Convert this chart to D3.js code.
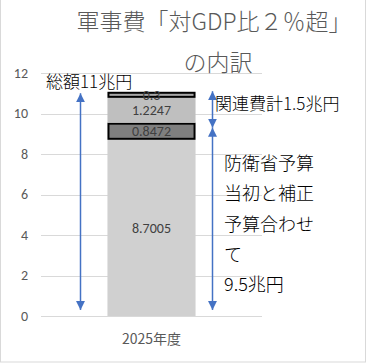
<!DOCTYPE html>
<html>
<head>
<meta charset="utf-8">
<script src="https://cdn.jsdelivr.net/npm/d3@7"></script>
<style>
body { margin: 0; background: #fff; }
svg { font-family: "Noto Sans CJK JP", "Noto Sans", sans-serif; }
</style>
</head>
<body>
<svg id="chart" width="366" height="363"></svg>
<script>
var categories = ["2025年度"];
var seriesNames = ["防衛省予算", "補正", "関連費", "その他"];
var seriesValues = [8.7005, 0.8472, 1.2247, 0.3];
var seriesColors = ["#d0d0d0", "#7f7f7f", "#bfbfbf", "#a6a6a6"];
var seriesBorder = [false, true, false, true];
var yTicks = [0, 2, 4, 6, 8, 10, 12];

var svg = d3.select("#chart");

// chart border
svg.append("rect")
  .attr("x", 0.5).attr("y", -1)
  .attr("width", 365).attr("height", 363)
  .style("fill", "none").style("stroke", "#d9d9d9");

var y = d3.scaleLinear().domain([0, 12]).range([316, 73]);
var x = d3.scaleBand().domain(categories).range([41, 262]).padding(0.43);

// gridlines
svg.append("g").selectAll("line")
  .data(yTicks).enter().append("line")
  .attr("x1", 41).attr("x2", 262)
  .attr("y1", function(d) { return Math.round(y(d)) + 0.5; })
  .attr("y2", function(d) { return Math.round(y(d)) + 0.5; })
  .style("stroke", "#d9d9d9");

var yAxis = d3.axisLeft(y).tickValues(yTicks).tickSize(0).tickPadding(0);
var gy = svg.append("g").attr("transform", "translate(28,0)").call(yAxis);
gy.select(".domain").remove();
gy.selectAll("text").style("fill", "#595959").style("font-size", "14px")
  .style("font-family", "Calibri, 'Liberation Sans', sans-serif");

// stacked bar
var stack = [];
var acc = 0;
seriesValues.forEach(function(v, i) {
  stack.push({ name: seriesNames[i], v0: acc, v1: acc + v, value: v, color: seriesColors[i], border: seriesBorder[i] });
  acc += v;
});

var bars = svg.append("g");
bars.selectAll("rect")
  .data(stack).enter().append("rect")
  .attr("x", function(d) { return x(categories[0]) + (d.border ? 1 : 0); })
  .attr("width", function(d) { return x.bandwidth() - (d.border ? 2 : 0); })
  .attr("y", function(d) { return y(d.v1) + (d.border ? 1 : 0); })
  .attr("height", function(d) { return y(d.v0) - y(d.v1) - (d.border ? 2 : 0); })
  .style("fill", function(d) { return d.color; })
  .style("stroke", function(d) { return d.border ? "#000" : "none"; })
  .style("stroke-width", 2);

bars.selectAll("text")
  .data(stack).enter().append("text")
  .attr("x", x(categories[0]) + x.bandwidth() / 2)
  .attr("y", function(d) { return (y(d.v0) + y(d.v1)) / 2 + 5; })
  .attr("text-anchor", "middle")
  .style("font-size", "14px")
  .style("font-family", "Calibri, 'Liberation Sans', sans-serif")
  .style("fill", "#404040")
  .text(function(d) { return d.value; });

// x axis label
svg.append("text")
  .attr("x", x(categories[0]) + x.bandwidth() / 2)
  .attr("y", 344)
  .attr("text-anchor", "middle")
  .style("font-size", "14px").style("fill", "#595959")
  .text(categories[0]);

// title
svg.append("text").attr("x", 214).attr("y", 30)
  .attr("text-anchor", "middle")
  .style("font-size", "23px").style("fill", "#595959").style("font-weight", 300)
  .text("軍事費「対GDP比２％超」");
svg.append("text").attr("x", 218).attr("y", 71)
  .attr("text-anchor", "middle")
  .style("font-size", "23px").style("fill", "#595959").style("font-weight", 300)
  .text("の内訳");

// arrows
var defs = svg.append("defs");
defs.append("marker").attr("id", "tri")
  .attr("viewBox", "0 0 10 10").attr("refX", 10).attr("refY", 5)
  .attr("markerWidth", 9).attr("markerHeight", 9)
  .attr("markerUnits", "userSpaceOnUse")
  .attr("orient", "auto-start-reverse")
  .append("path").attr("d", "M0,0 L10,5 L0,10 z").style("fill", "#4472c4");

function arrow(xp, v1, v2) {
  svg.append("line")
    .attr("x1", xp).attr("x2", xp)
    .attr("y1", y(v1)).attr("y2", y(v2))
    .style("stroke", "#4472c4").style("stroke-width", 1.5)
    .attr("marker-start", "url(#tri)")
    .attr("marker-end", "url(#tri)");
}
arrow(80.5, 11.0, 0.3);
arrow(212.5, 11.1, 9.3);
arrow(212.5, 9.3, 0.3);

// annotations
function note(xp, yp, str, size) {
  svg.append("text").attr("x", xp).attr("y", yp)
    .style("font-size", size + "px").style("fill", "#000")
    .style("font-weight", 300).text(str);
}
note(46, 88, "総額11兆円", 17);
note(215, 110, "関連費計1.5兆円", 17);
note(224, 170, "防衛省予算", 18);
note(224, 200, "当初と補正", 18);
note(224, 231, "予算合わせ", 18);
note(224, 261, "て", 18);
note(224, 291, "9.5兆円", 18);
</script>
</body>
</html>
